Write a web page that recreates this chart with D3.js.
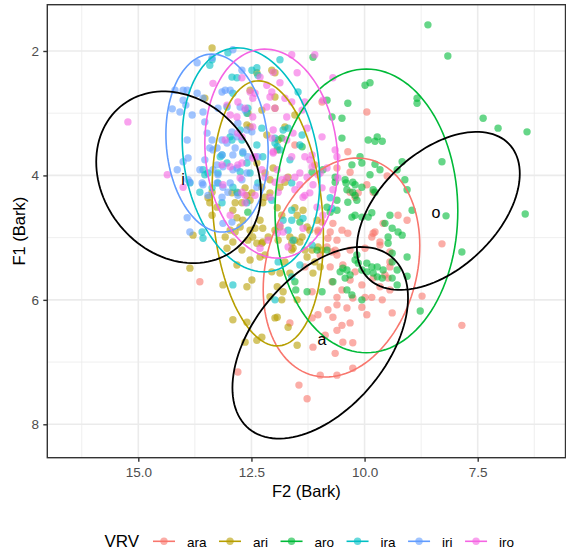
<!DOCTYPE html>
<html>
<head>
<meta charset="utf-8">
<script src="https://cdn.jsdelivr.net/npm/d3@7"></script>
<style>
  body { margin: 0; background: #ffffff; }
  text { font-family: "Liberation Sans", Arial, Helvetica, sans-serif; }
</style>
</head>
<body>
<script>
// vowel formant points, [F2, F1] in Bark, one list per VRV context
var ara = [[10.94,2.82],[9.95,2.98],[10.37,3.62],[11.54,3.51],[9.50,4.01],[9.26,4.64],[9.06,4.72],[9.59,4.77],[9.81,4.93],[9.66,5.07],[9.44,5.23],[9.44,5.47],[9.48,5.65],[9.66,5.79],[9.84,5.96],[9.39,6.21],[8.73,5.94],[8.29,5.10],[7.85,6.41],[11.45,7.37],[11.27,7.59],[13.64,5.71],[12.80,7.16],[10.65,6.86],[10.98,7.21],[10.26,6.69],[10.50,6.41],[11.16,6.29],[10.81,6.16],[10.61,5.96],[10.26,5.97],[10.32,5.68],[10.72,5.71],[10.76,5.47],[10.48,5.44],[10.61,5.28],[10.50,4.88],[10.37,4.93],[10.76,4.91],[10.61,5.04],[10.70,4.77],[10.21,4.35],[11.16,5.87],[10.70,6.28],[9.99,5.96],[10.21,5.55],[10.06,5.76],[11.65,6.37],[10.94,4.75],[11.03,4.88],[10.81,5.01],[10.32,4.27],[10.14,4.28],[9.81,4.27],[10.98,5.28],[10.72,5.23],[11.32,5.47],[10.32,5.20],[11.10,3.83],[10.61,3.88],[10.32,3.95],[9.95,4.15],[9.44,5.39],
  [11.03,4.91],[10.83,5.15],[10.65,5.20],[9.99,5.17],[9.84,4.99],[10.50,5.84],[11.03,6.24],[10.61,6.08],[10.39,6.13],[10.06,6.12],[9.95,6.24],[10.32,6.37],[10.87,6.57],[10.61,6.49],[10.48,6.68],[11.14,6.76],[10.26,7.10],[10.61,7.21],[9.77,4.91],[9.66,5.12],[9.55,5.60],[9.81,5.65],[9.44,5.84],[9.61,6.00]];
var ari = [[13.37,1.95],[13.53,2.76],[12.53,2.63],[12.27,2.95],[12.05,2.31],[11.98,2.74],[11.76,3.22],[11.54,3.03],[12.53,3.22],[12.93,4.28],[12.38,3.80],[11.93,3.59],[11.69,4.03],[12.49,4.28],[12.20,3.96],[12.20,4.35],[12.38,2.35],[12.58,3.00],[12.60,3.19],[11.98,2.35],[11.98,2.92],[12.16,3.35],[11.91,3.43],[12.80,4.28],[12.64,4.20],[12.53,4.40],[12.86,4.44],[12.71,4.44],[13.46,4.36],[13.37,4.27],[12.82,4.68],[12.69,4.72],[12.75,4.83],[12.53,4.88],[12.97,4.88],[12.91,5.07],[12.47,4.99],[12.38,5.09],[13.04,5.17],[12.31,5.31],[12.82,5.44],[13.79,4.96],[13.37,4.64],[12.71,5.20],[12.58,5.04],[12.42,4.85],[12.27,5.09],[12.86,4.91],[12.20,5.28],[12.05,5.55],[12.49,5.68],[12.60,5.79],[13.13,5.76],[11.93,5.79],[11.80,5.87],[12.09,5.95],[11.98,6.29],[11.69,6.44],[11.49,6.00],[12.38,6.65],[12.64,6.68],[11.49,6.73],[11.58,5.17],[11.87,5.57],[11.32,5.20],[10.98,5.47],[11.10,5.39],[12.02,3.88],[12.09,4.07],[11.76,4.11],[12.27,4.19],[12.09,4.28],[12.25,4.44],[11.93,4.52],[11.54,4.52],[11.36,4.56],[12.25,4.85],[12.13,4.99],[11.27,4.83],[11.61,5.09],[11.16,5.20],[11.03,5.15],
  [12.60,4.32],[13.08,4.99],[12.53,5.36],[13.86,5.49],[12.31,4.72],[12.91,4.56],[13.26,4.51],[13.42,4.44],[11.87,4.83],[11.76,5.39],[11.65,5.57],[11.27,5.31],[11.38,4.99],[11.54,5.04],[11.21,4.88],[11.05,4.72],[11.14,5.57],[11.83,6.00],[11.93,6.28],[12.60,6.36],[12.27,6.60],[12.91,6.32],[11.87,4.19],[11.83,4.64],[11.49,4.64],[11.98,4.88],[11.91,5.04],[11.65,4.99],[11.43,5.07],[10.94,5.20],[11.61,5.20],[12.25,5.07]];
var aro = [[8.60,1.58],[8.16,2.08],[8.84,2.76],[8.84,2.84],[7.38,3.08],[7.05,3.24],[6.41,3.30],[8.29,3.78],[9.17,3.78],[9.28,3.91],[9.72,3.38],[9.77,3.45],[9.61,3.45],[9.77,3.82],[9.66,3.91],[9.88,3.99],[9.11,4.07],[9.06,4.23],[9.77,4.27],[9.88,2.51],[9.84,4.60],[9.44,4.64],[8.95,4.56],[8.20,4.65],[6.45,4.62],[7.85,5.23],[9.39,4.85],[9.26,4.91],[9.17,4.96],[9.48,4.99],[9.48,5.09],[9.39,5.25],[9.06,5.31],[9.39,5.39],[9.72,5.47],[9.59,5.52],[9.72,5.63],[9.39,5.65],[9.28,5.76],[9.06,5.62],[8.77,6.18],[11.14,2.10],[9.99,2.55],[10.72,3.06],[10.50,3.08],[10.10,3.70],[10.06,3.80],[10.28,3.83],[11.16,3.95],[10.92,3.91],[10.65,4.03],[10.39,4.23],[10.26,4.11],[11.83,3.40],[10.83,2.79],[10.37,2.84],[10.50,3.40],[9.92,3.43],[11.38,3.54],[10.43,4.07],[10.21,4.15],[10.06,4.19],[10.21,4.32],[10.17,4.40],[10.83,4.51],[10.61,4.56],[10.28,4.67],[10.06,4.67],[11.43,4.75],[11.05,5.20],[10.83,5.20],[10.14,5.41],[9.84,5.47],[11.54,5.71],[11.27,5.87],[10.94,5.87],[10.70,5.71],[10.54,5.55],[10.39,5.52],[10.32,5.60],[10.06,5.52],[10.28,5.92],[10.06,6.00],[10.39,5.84],[10.17,5.28],[10.21,5.36],[9.81,5.57],[12.58,4.59],
  [10.65,4.11],[10.41,4.12],[10.26,4.27],[10.61,4.40],[10.37,4.43],[10.76,4.59],[10.21,4.64],[9.92,4.67],[9.95,5.41],[10.48,5.49],[10.43,5.65],[9.95,5.55],[11.52,5.84],[9.81,4.23],[9.55,4.77],[9.61,5.65],[9.28,5.52]];
var ira = [[13.42,2.23],[13.37,2.14],[12.93,2.42],[12.82,2.43],[12.49,2.31],[12.38,2.27],[12.60,3.00],[12.58,2.92],[12.75,3.27],[12.97,3.38],[12.91,2.68],[12.27,3.24],[12.38,3.51],[12.71,3.43],[11.87,2.14],[11.93,3.54],[13.19,3.70],[13.04,3.80],[11.98,3.40],[11.80,3.27],[11.87,3.59],[13.24,3.96],[12.91,4.19],[12.36,4.12],[13.37,4.20],[12.25,3.70],[11.65,3.75],[13.57,3.91],[13.53,3.99],[13.15,3.67],[12.69,3.64],[13.24,4.12],[13.64,4.27],[13.15,4.44],[13.59,4.91],[13.57,5.01],[12.75,3.94],[12.53,3.96],[12.91,5.76],[11.98,6.00],[11.61,5.63],[11.43,5.44],[11.80,4.72],[11.69,4.88],[10.76,4.36],[11.91,5.39],[12.05,4.40],[11.61,4.12],[11.61,4.56],[11.36,4.69],[11.58,5.04],[11.47,2.66],[11.38,3.35],[11.43,3.51],[11.98,3.48],[11.69,3.24],
  [12.60,3.80],[13.46,3.96],[12.82,4.27],[12.60,4.44],[13.86,4.12],[10.72,4.53],[11.16,5.12],[11.61,4.72],[13.02,2.03],[12.36,2.39],[13.04,2.90],[12.93,3.43]];
var iri = [[12.91,1.98],[13.37,2.11],[13.70,2.19],[12.71,2.31],[14.19,2.63],[14.01,2.63],[13.70,2.68],[13.15,2.66],[13.08,2.63],[12.97,2.63],[13.92,2.63],[13.57,2.76],[14.25,2.93],[14.08,2.98],[13.95,2.87],[13.81,3.03],[13.57,2.98],[13.24,2.92],[12.75,2.90],[12.64,2.95],[13.53,3.14],[12.80,3.16],[12.60,3.27],[12.49,3.30],[12.93,3.30],[13.48,3.32],[13.92,3.43],[13.37,3.43],[13.15,3.43],[13.04,3.48],[12.82,3.38],[13.42,3.56],[13.26,3.56],[12.86,3.56],[13.35,3.59],[13.15,3.67],[12.91,3.67],[12.69,3.62],[13.90,3.72],[13.53,3.75],[12.58,3.70],[14.01,3.78],[14.14,3.91],[13.64,3.91],[13.35,3.91],[13.13,3.86],[12.91,3.91],[12.60,3.96],[13.26,3.83],[12.82,3.88],[13.90,4.07],[13.86,4.11],[13.59,4.12],[13.24,3.99],[13.26,4.12],[12.97,4.12],[12.71,4.07],[13.57,4.15],[13.13,4.19],[13.02,4.27],[13.46,4.32],[12.80,4.32],[13.92,4.68],[13.13,4.77],[12.93,4.75],[13.86,4.91],
  [14.01,2.79],[12.38,4.19],[12.36,3.70],[13.15,4.35]];
var iro = [[15.23,3.14],[14.36,3.99],[14.01,4.19],[13.35,2.52],[13.04,2.87],[12.80,2.82],[12.53,2.66],[12.47,2.76],[12.64,2.92],[12.97,3.03],[12.82,3.06],[12.47,3.06],[12.71,3.38],[13.08,3.43],[11.10,2.06],[11.49,2.35],[12.02,2.34],[12.71,2.43],[12.16,2.55],[12.42,2.68],[11.61,2.82],[11.72,3.06],[11.98,2.92],[12.80,3.32],[12.47,3.22],[12.05,3.40],[11.58,3.32],[11.32,2.82],[11.27,3.24],[10.70,2.43],[11.16,3.67],[11.32,3.70],[11.61,3.70],[12.02,3.64],[12.71,3.80],[12.27,3.91],[11.93,3.91],[11.72,4.04],[11.98,4.11],[11.14,4.15],[11.21,4.28],[11.54,4.23],[12.09,4.35],[11.61,2.06],[11.87,2.51],[12.09,2.74],[11.76,2.76],[11.38,2.95],[12.02,3.27],[10.65,3.59],[11.21,3.75],[10.61,3.70],[11.16,3.86],[10.83,3.88],[11.27,4.03],[11.03,3.99],[11.83,4.07],[11.91,4.27],[10.94,4.20],[10.70,4.23],[11.87,4.80],[11.80,4.91],[13.15,3.83],[12.80,3.83],[12.47,3.72],[12.75,4.04],[12.97,4.64],[12.64,4.44],[12.64,4.32],[11.32,4.32],[11.05,4.51],[12.31,5.17],[12.13,5.04],[11.69,5.15],
  [12.31,2.42],[12.42,3.70],[12.97,3.86],[11.43,4.15],[12.42,4.32],[12.71,4.27],[13.13,4.15],[10.98,3.96],[10.94,3.38],[10.92,2.79],[11.72,3.43],[12.16,2.90],[12.05,2.66],[12.02,3.62],[11.43,3.96],[11.54,4.03],[10.59,4.04],[12.20,4.03],[11.36,4.35],[11.93,4.93],[11.36,4.85],[10.92,4.64]];

var vrvNames = ["ara", "ari", "aro", "ira", "iri", "iro"];
var vrvColors = ["#F8766D", "#B79F00", "#00BA38", "#00BFC4", "#619CFF", "#F564E3"];

// ellipse per VRV group: centre (F2, F1), half extent in F2 and F1, correlation
var vrvEllCx = [10.51, 12.14, 9.96, 12.51, 13.26, 12.06];
var vrvEllCy = [5.48, 4.61, 4.57, 3.75, 3.48, 3.65];
var vrvEllRx = [1.73, 1.23, 2.02, 1.52, 1.13, 1.47];
var vrvEllRy = [1.76, 2.13, 2.28, 1.80, 1.43, 1.68];
var vrvEllRho = [0.20, -0.17, 0.0, -0.19, -0.10, -0.10];

// reference vowel ellipses (black) and their labels
var vowelNames = ["i", "a", "o"];
var vowelCx = [14.11, 10.98, 8.37];
var vowelCy = [4.03, 6.69, 4.57];
var vowelRx = [1.82, 1.94, 1.80];
var vowelRy = [1.38, 1.54, 1.27];
var vowelRho = [-0.18, 0.47, 0.47];
var vowelLabelF2 = [14.01, 10.94, 8.42];
var vowelLabelF1 = [4.07, 6.63, 4.60];

var xTicks = [7.5, 10, 12.5, 15];
var xMinor = [6.25, 8.75, 11.25, 13.75, 16.25];
var yTicks = [2, 4, 6, 8];
var yMinor = [3, 5, 7];

window.onload = function() {

    var width = 566, height = 551;
    var panel = { left: 47.3, right: 565.5, top: 4.7, bottom: 457.7 };

    var svg = d3.select("body")
      .append("svg")
        .attr("width", width)
        .attr("height", height);

    svg.append("rect")
      .attr("width", width)
      .attr("height", height)
      .attr("fill", "#ffffff");

    // both axes are reversed, like a vowel chart
    var x = d3.scaleLinear()
      .domain([17.011, 5.56])
      .range([panel.left, panel.right]);
    var y = d3.scaleLinear()
      .domain([1.256, 8.537])
      .range([panel.top, panel.bottom]);

    svg.append("clipPath")
        .attr("id", "clip")
      .append("rect")
        .attr("x", panel.left)
        .attr("y", panel.top)
        .attr("width", panel.right - panel.left)
        .attr("height", panel.bottom - panel.top);

    // grid lines
    var grid = svg.append("g");
    grid.selectAll("line.xminor").data(xMinor).enter().append("line")
      .attr("x1", function(d) { return x(d); }).attr("x2", function(d) { return x(d); })
      .attr("y1", panel.top).attr("y2", panel.bottom)
      .attr("stroke", "#ebebeb").attr("stroke-width", 0.8);
    grid.selectAll("line.yminor").data(yMinor).enter().append("line")
      .attr("y1", function(d) { return y(d); }).attr("y2", function(d) { return y(d); })
      .attr("x1", panel.left).attr("x2", panel.right)
      .attr("stroke", "#ebebeb").attr("stroke-width", 0.8);
    grid.selectAll("line.xmajor").data(xTicks).enter().append("line")
      .attr("x1", function(d) { return x(d); }).attr("x2", function(d) { return x(d); })
      .attr("y1", panel.top).attr("y2", panel.bottom)
      .attr("stroke", "#ebebeb").attr("stroke-width", 1.6);
    grid.selectAll("line.ymajor").data(yTicks).enter().append("line")
      .attr("y1", function(d) { return y(d); }).attr("y2", function(d) { return y(d); })
      .attr("x1", panel.left).attr("x2", panel.right)
      .attr("stroke", "#ebebeb").attr("stroke-width", 1.6);

    var plot = svg.append("g").attr("clip-path", "url(#clip)");

    // points
    var groups = [ara, ari, aro, ira, iri, iro];
    groups.forEach(function(pts, gi) {
      plot.append("g").selectAll("circle")
        .data(pts)
        .enter().append("circle")
          .attr("cx", function(d) { return x(d[0]); })
          .attr("cy", function(d) { return y(d[1]); })
          .attr("r", 3.7)
          .attr("fill", vrvColors[gi])
          .attr("fill-opacity", 0.6);
    });

    // ellipse outline from centre, extents and correlation
    function ellipsePath(cx, cy, rx, ry, rho) {
      var s = Math.sqrt(1 - rho * rho);
      var pts = d3.range(0, 121).map(function(i) {
        var t = 2 * Math.PI * i / 120;
        return [x(cx + rx * Math.cos(t)), y(cy + ry * (rho * Math.cos(t) + s * Math.sin(t)))];
      });
      return d3.line()(pts);
    }

    vrvNames.forEach(function(name, gi) {
      plot.append("path")
        .attr("d", ellipsePath(vrvEllCx[gi], vrvEllCy[gi], vrvEllRx[gi], vrvEllRy[gi], vrvEllRho[gi]))
        .attr("fill", "none")
        .attr("stroke", vrvColors[gi])
        .attr("stroke-width", 1.6);
    });

    vowelNames.forEach(function(name, vi) {
      plot.append("path")
        .attr("d", ellipsePath(vowelCx[vi], vowelCy[vi], vowelRx[vi], vowelRy[vi], vowelRho[vi]))
        .attr("fill", "none")
        .attr("stroke", "#000000")
        .attr("stroke-width", 1.8);
      plot.append("text")
        .attr("x", x(vowelLabelF2[vi]))
        .attr("y", y(vowelLabelF1[vi]))
        .attr("dy", "0.35em")
        .attr("text-anchor", "middle")
        .style("font-size", "16px")
        .attr("fill", "#000000")
        .text(name);
    });

    // panel border
    svg.append("rect")
      .attr("x", panel.left)
      .attr("y", panel.top)
      .attr("width", panel.right - panel.left)
      .attr("height", panel.bottom - panel.top)
      .attr("fill", "none")
      .attr("stroke", "#333333")
      .attr("stroke-width", 1.4);

    // axes
    var xAxis = d3.axisBottom(x)
      .tickValues(xTicks)
      .tickFormat(d3.format(".1f"))
      .tickSize(4)
      .tickPadding(5.5);
    var yAxis = d3.axisLeft(y)
      .tickValues(yTicks)
      .tickFormat(d3.format("d"))
      .tickSize(4)
      .tickPadding(4.3);

    var gx = svg.append("g")
      .attr("transform", "translate(0," + panel.bottom + ")")
      .call(xAxis);
    var gy = svg.append("g")
      .attr("transform", "translate(" + panel.left + ",0)")
      .call(yAxis);

    [gx, gy].forEach(function(g) {
      g.select(".domain").remove();
      g.selectAll(".tick line").attr("stroke", "#333333").attr("stroke-width", 1.4);
      g.selectAll(".tick text")
        .attr("fill", "#4d4d4d")
        .style("font-size", "13.5px")
        .style("font-family", "'Liberation Sans', Arial, sans-serif");
    });

    // axis titles
    svg.append("text")
      .attr("x", (panel.left + panel.right) / 2)
      .attr("y", 496.7)
      .attr("text-anchor", "middle")
      .style("font-size", "16.5px")
      .text("F2 (Bark)");

    svg.append("text")
      .attr("transform", "translate(24.5," + (panel.top + panel.bottom) / 2 + ") rotate(-90)")
      .attr("text-anchor", "middle")
      .style("font-size", "16.5px")
      .text("F1 (Bark)");

    // legend along the bottom
    var legend = svg.append("g");
    var legendY = 541.3;
    legend.append("text")
      .attr("x", 104.5)
      .attr("y", 547.3)
      .style("font-size", "17px")
      .text("VRV");

    var kx = 153;
    vrvNames.forEach(function(name, gi) {
      legend.append("line")
        .attr("x1", kx).attr("x2", kx + 22)
        .attr("y1", legendY).attr("y2", legendY)
        .attr("stroke", vrvColors[gi])
        .attr("stroke-width", 1.6);
      legend.append("circle")
        .attr("cx", kx + 11)
        .attr("cy", legendY)
        .attr("r", 3.7)
        .attr("fill", vrvColors[gi])
        .attr("fill-opacity", 0.6);
      var label = legend.append("text")
        .attr("x", kx + 34)
        .attr("y", 547)
        .style("font-size", "13.5px")
        .text(name);
      kx = kx + 34 + label.node().getComputedTextLength() + 12.5;
    });
};
</script>
</body>
</html>
